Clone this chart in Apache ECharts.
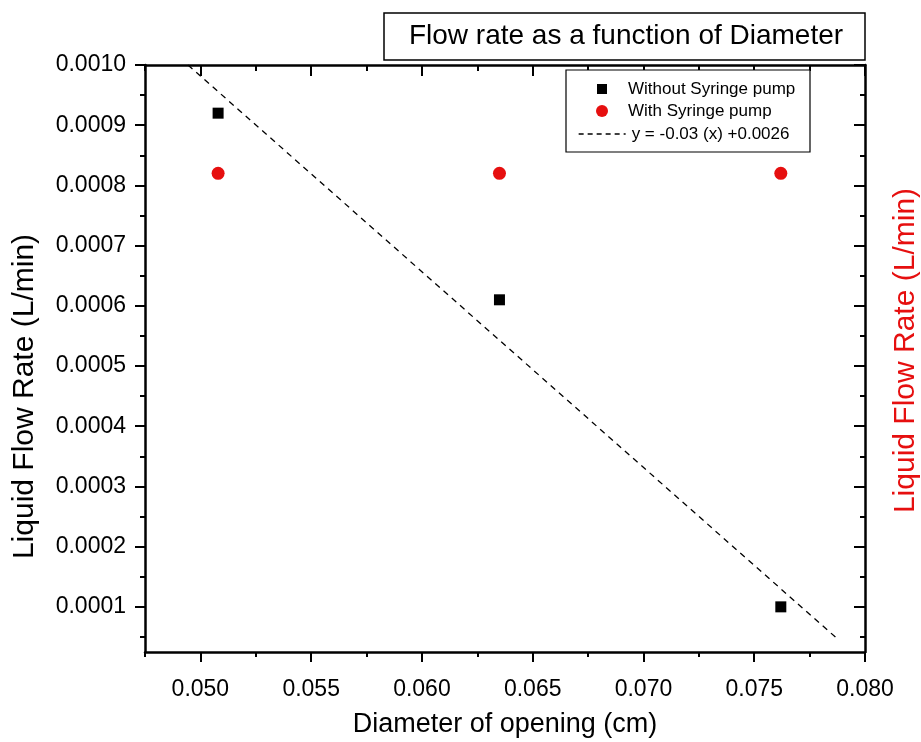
<!DOCTYPE html>
<html>
<head>
<meta charset="utf-8">
<script src="https://cdn.jsdelivr.net/npm/echarts@6/dist/echarts.min.js"></script>
<style>html,body{margin:0;padding:0;background:#fff}#c{width:921px;height:742px}</style>
</head>
<body>
<div id="c"></div>
<script>
// ---- data ----
const withoutPump = [[0.0508, 0.00092], [0.0635, 0.00061], [0.0762, 0.00010]];
const withPump = [[0.0508, 0.00082], [0.0635, 0.00082], [0.0762, 0.00082]];
const fitLine = [[0.04944, 0.00100], [0.07872, 0.000048]];
const xMajorTicks = [0.050, 0.055, 0.060, 0.065, 0.070, 0.075, 0.080];
const xMinorTicks = [0.0475, 0.0525, 0.0575, 0.0625, 0.0675, 0.0725, 0.0775];
const yMajorTicks = [0.0001, 0.0002, 0.0003, 0.0004, 0.0005, 0.0006, 0.0007, 0.0008, 0.0009, 0.0010];
const yMinorTicks = [0.00005, 0.00015, 0.00025, 0.00035, 0.00045, 0.00055, 0.00065, 0.00075, 0.00085, 0.00095];
const titleText = 'Flow rate as a function of Diameter';
const xName = 'Diameter of opening (cm)';
const yName = 'Liquid Flow Rate (L/min)';
const seriesNames = ['Without Syringe pump', 'With Syringe pump', 'y = -0.03 (x) +0.0026'];

const FONT = 'Liberation Sans, Arial, sans-serif';
const xMin = 0.0475, xMax = 0.080, yMin = 0.000025, yMax = 0.0010;

function xAxisDef(pos, ticks, len, inside, labels, showLine, name) {
  return {
    type: 'value', position: pos, min: xMin, max: xMax,
    axisLine: {show: showLine, onZero: false, lineStyle: {color: '#000', width: 2.5}},
    axisTick: {show: true, customValues: ticks, length: len, inside: inside, lineStyle: {color: '#000', width: 2}},
    axisLabel: labels ? {show: true, customValues: ticks, margin: 26, fontSize: 23, color: '#000', fontFamily: FONT,
      formatter: v => v.toFixed(3)} : {show: false},
    splitLine: {show: false},
    name: name || '', nameLocation: 'middle', nameGap: 59,
    nameTextStyle: {fontSize: 27, color: '#000', fontFamily: FONT}
  };
}
function yAxisDef(pos, ticks, len, inside, labels, showLine, name, nameColor, nameGap, namePad) {
  return {
    type: 'value', position: pos, min: yMin, max: yMax,
    axisLine: {show: showLine, onZero: false, lineStyle: {color: '#000', width: 2.5}},
    axisTick: {show: true, customValues: ticks, length: len, inside: inside, lineStyle: {color: '#000', width: 2}},
    axisLabel: labels ? {show: true, customValues: ticks, margin: 19, fontSize: 23, color: '#000', fontFamily: FONT,
      formatter: v => v.toFixed(4)} : {show: false},
    splitLine: {show: false},
    name: name || '', nameLocation: 'middle', nameGap: nameGap || 0, nameRotate: 90,
    nameTextStyle: {fontSize: 30, color: nameColor || '#000', fontFamily: FONT, padding: namePad || 0}
  };
}

const chart = echarts.init(document.getElementById('c'), null, {renderer: 'canvas'});
chart.setOption({
  backgroundColor: '#fff',
  animation: false,
  grid: {left: 145, right: 56, top: 65, bottom: 90, containLabel: false, outerBoundsMode: 'none'},
  title: {text: titleText, left: 626, top: 22, textAlign: 'center', padding: 0,
    textStyle: {fontSize: 28, fontWeight: 'normal', color: '#000', fontFamily: FONT}},
  graphic: [
    {type: 'rect', shape: {x: 384, y: 13, width: 481, height: 47}, style: {fill: 'none', stroke: '#000', lineWidth: 1.5}, z: 10},
    {type: 'rect', shape: {x: 566, y: 70, width: 244, height: 82}, style: {fill: '#fff', stroke: '#000', lineWidth: 1.2}, z: 5}
  ],
  legend: [
    {data: [{name: seriesNames[0], icon: 'rect'}], left: 597, top: 80, padding: 0, itemWidth: 10, itemHeight: 10,
     textStyle: {fontSize: 17, lineHeight: 18, color: '#000', fontFamily: FONT, padding: [0, 0, 0, 16]}, z: 20},
    {data: [{name: seriesNames[1], icon: 'circle'}], left: 596, top: 102, padding: 0, itemWidth: 12, itemHeight: 12,
     textStyle: {fontSize: 17, lineHeight: 18, color: '#000', fontFamily: FONT, padding: [0, 0, 0, 15]}, z: 20},
    {data: [seriesNames[2]], left: 578, top: 125, padding: 0, itemWidth: 47, itemHeight: 12,
     itemStyle: {opacity: 0}, lineStyle: {color: '#000', width: 1.3, type: [5, 4]},
     textStyle: {fontSize: 17, lineHeight: 18, color: '#000', fontFamily: FONT, padding: [0, 0, 0, 1]}, z: 20}
  ],
  xAxis: [
    xAxisDef('bottom', xMajorTicks, 10, false, true, true, xName),
    xAxisDef('bottom', xMinorTicks, 5, false, false, false),
    xAxisDef('top', xMajorTicks, 11, true, false, true),
    xAxisDef('top', xMinorTicks, 6, true, false, false)
  ],
  yAxis: [
    yAxisDef('left', yMajorTicks, 10, false, true, true, yName, '#000', 105, [0, 76, 0, 0]),
    yAxisDef('left', yMinorTicks, 5, false, false, false),
    yAxisDef('right', yMajorTicks, 11, true, false, true, yName, '#e60f0f', 26, [0, 0, 0, 16]),
    yAxisDef('right', yMinorTicks, 5, true, false, false)
  ],
  series: [
    {name: seriesNames[0], type: 'scatter', data: withoutPump, symbol: 'rect', symbolSize: 11,
     itemStyle: {color: '#000', opacity: 1}, xAxisIndex: 0, yAxisIndex: 0},
    {name: seriesNames[1], type: 'scatter', data: withPump, symbol: 'circle', symbolSize: 13,
     itemStyle: {color: '#e60f0f', opacity: 1}, xAxisIndex: 0, yAxisIndex: 0},
    {name: seriesNames[2], type: 'line', data: fitLine, symbol: 'none', showSymbol: false,
     lineStyle: {color: '#000', width: 1.3, type: [6, 5]}, itemStyle: {color: '#000'},
     xAxisIndex: 0, yAxisIndex: 0, z: 1}
  ]
});
</script>
</body>
</html>
